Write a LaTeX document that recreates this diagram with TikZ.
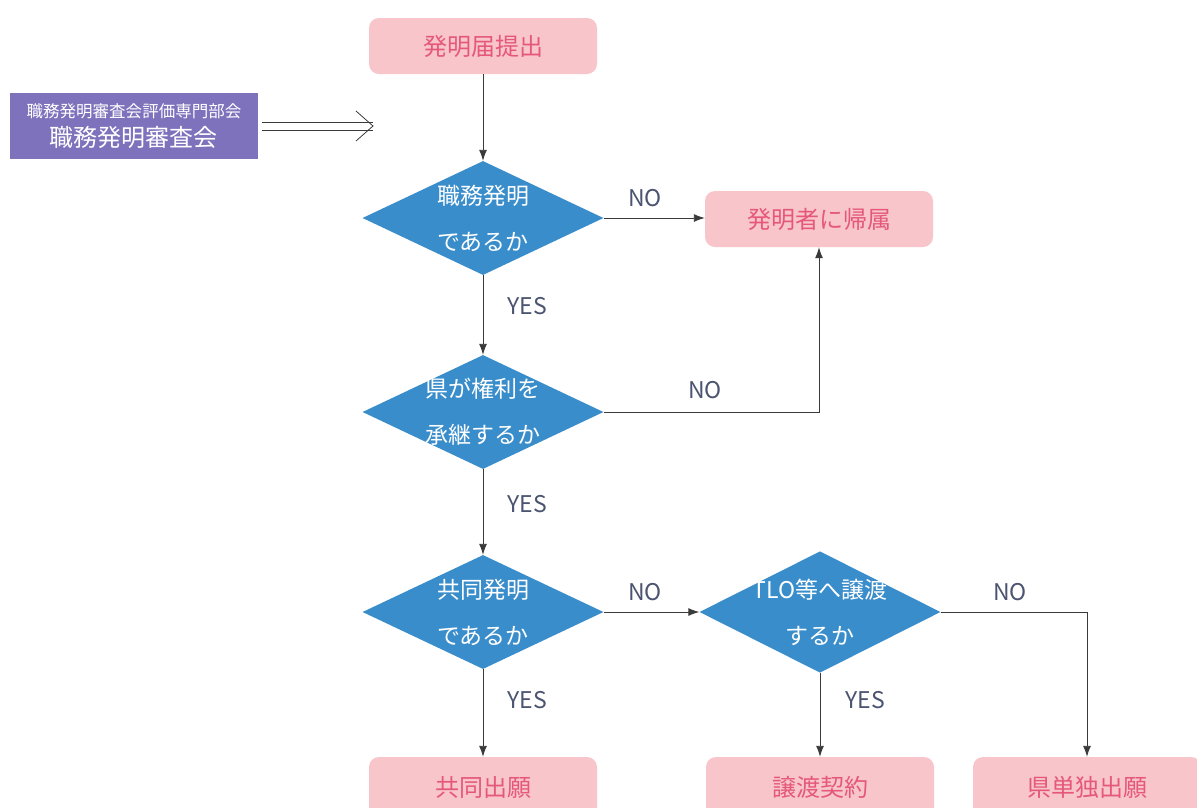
\documentclass[tikz,border=0pt]{standalone}
\usepackage{fontspec}
\setmainfont{Noto Sans CJK JP}
\usetikzlibrary{shapes.geometric,arrows.meta}
\definecolor{pinkfill}{HTML}{F7C5CA}
\definecolor{pinktext}{HTML}{E5587A}
\definecolor{diablue}{HTML}{3A8DCB}
\definecolor{purfill}{HTML}{7E72BC}
\definecolor{lbl}{HTML}{4B5470}
\definecolor{arr}{HTML}{3A3A3A}
\tikzset{
  pinkbox/.style={rectangle, rounded corners=10pt, fill=pinkfill, text=pinktext,
    minimum width=228pt, minimum height=56pt, font=\fontsize{24}{28}\selectfont, inner sep=0pt},
  decision/.style={diamond, fill=diablue, text=white, minimum width=241pt, minimum height=114pt,
    inner sep=-20pt, align=center, font=\fontsize{23}{46}\selectfont},
  yn/.style={text=lbl, font=\fontsize{23}{26}\selectfont, inner sep=0pt},
  flow/.style={draw=arr, line width=0.9pt, -{Latex[length=11pt,width=8pt]}},
  plainline/.style={draw=arr, line width=0.8pt}
}
\begin{document}
\begin{tikzpicture}[x=1pt,y=-1pt]
\useasboundingbox (0,0) rectangle (1197,807);
\clip (0,0) rectangle (1197,807);
\fill[white] (0,0) rectangle (1197,807);

\node[pinkbox] (start) at (483,46) {発明届提出};
\node[rectangle, fill=purfill, text=white, minimum width=248pt, minimum height=66pt, inner sep=0pt, align=center] (pur) at (134,126)
  {\fontsize{16.5}{20}\selectfont 職務発明審査会評価専門部会\\[6pt]\fontsize{24}{28}\selectfont 職務発明審査会};
\coordinate (dtip) at (373,126);
\draw[plainline] ([yshift=4pt]pur.east) ++(4,0) -- ([yshift=4pt]dtip);
\draw[plainline] ([yshift=-4pt]pur.east) ++(4,0) -- ([yshift=-4pt]dtip);
\draw[plainline, line join=miter] (dtip) ++(-17,-15) -- (dtip) -- ++(-17,15);

\node[decision] (d1) at (483,218) {職務発明\\であるか};
\node[pinkbox] (own) at (819,219) {発明者に帰属};
\node[decision] (d2) at (483,412) {県が権利を\\承継するか};
\node[decision] (d3) at (483,612) {共同発明\\であるか};
\node[decision] (d4) at (820,612) {TLO等へ譲渡\\するか};
\node[pinkbox, minimum height=62pt] (joint) at (483,788) {\raisebox{4pt}{共同出願}};
\node[pinkbox, minimum height=62pt] (trans) at (820,788) {\raisebox{4pt}{譲渡契約}};
\node[pinkbox, minimum height=62pt] (solo) at (1087,788) {\raisebox{4pt}{県単独出願}};

\draw[flow] (start.south) -- (d1.north);
\draw[flow] (d1.east) -- (d1.east -| own.west);
\draw[flow] (d1.south) -- (d2.north);
\draw[flow] (d2.east) -| (own.south);
\draw[flow] (d2.south) -- (d3.north);
\draw[flow] (d3.east) -- (d4.west);
\draw[flow] (d3.south) -- (joint.north);
\draw[flow] (d4.south) -- (trans.north);
\draw[flow] (d4.east) -| (solo.north);

\node[yn] at (645,198) {NO};
\node[yn] at (527,306) {YES};
\node[yn] at (705,390) {NO};
\node[yn] at (527,504) {YES};
\node[yn] at (645,592) {NO};
\node[yn] at (1010,592) {NO};
\node[yn] at (527,700) {YES};
\node[yn] at (865,700) {YES};
\end{tikzpicture}
\end{document}
